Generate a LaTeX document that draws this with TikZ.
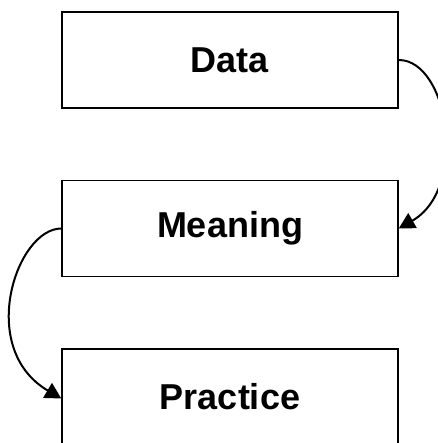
\documentclass[tikz,border=0pt]{standalone}
\usepackage{fontspec}
\setmainfont{Liberation Sans}
\usetikzlibrary{arrows.meta}
\tikzset{
  box/.style={draw=black, line width=1.4pt, minimum width=336pt, minimum height=96pt,
    inner sep=0pt, font=\fontsize{36}{40}\selectfont\bfseries},
  link/.style={draw=black, line width=2pt, -{Triangle[length=16pt,width=17pt]}}
}
\begin{document}
\begin{tikzpicture}
\path[use as bounding box] (0pt,0pt) rectangle (437pt,443pt);
\node[box] (D) at (230pt,383pt) {Data};
\node[box] (M) at (230pt,214.5pt) {Meaning};
\node[box] (P) at (230pt,46pt) {Practice};
\draw[link] (D.east) .. controls +(50pt,0pt) and +(70pt,40pt) .. (M.east);
\draw[link] (M.west) .. controls +(-45pt,0pt) and +(-85pt,50pt) .. ([yshift=-1.5pt]P.west);
\end{tikzpicture}
\end{document}
